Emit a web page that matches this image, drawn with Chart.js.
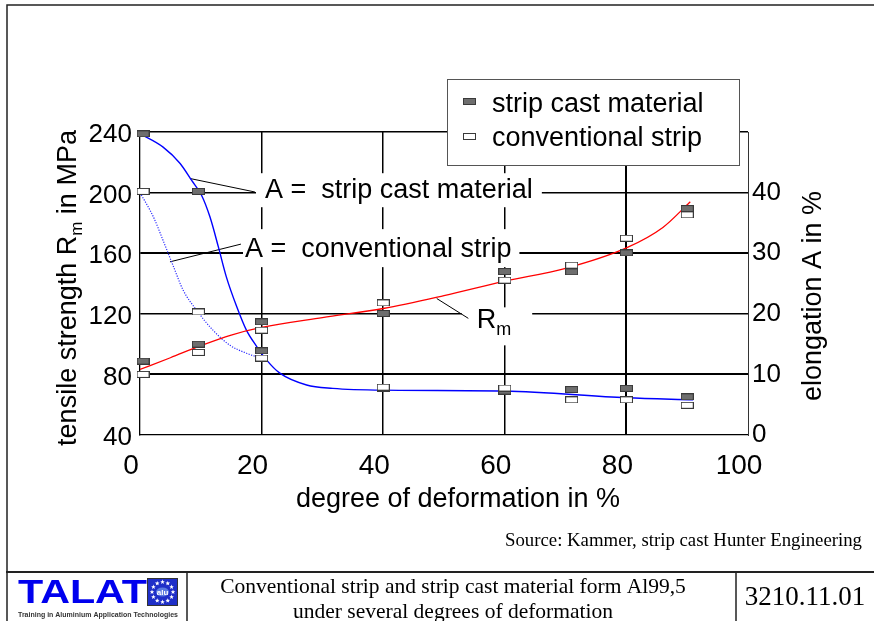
<!DOCTYPE html>
<html><head><meta charset="utf-8">
<script src="https://cdn.jsdelivr.net/npm/chart.js@4.4.0/dist/chart.umd.min.js"></script>
<style>html,body{margin:0;padding:0;background:#fff;}canvas{display:block;}</style>
</head><body>
<canvas id="c" width="874" height="621" style="width:874px;height:621px"></canvas>
<script>
// ---- data ----
const deformation = [0.5, 9.6, 20, 40, 60, 71, 80, 90];            // degree of deformation in %
const rmStripCast = [88.8, 100.0, 114.7, 120.2, 147.9, 147.7, 160.2, 189.5];   // MPa
const rmConventional = [80.0, 94.5, 109.2, 127.2, 142.2, 152.1, 169.9, 185.3]; // MPa
const elongStripCast = [49.7, 40.2, 13.9, 7.7, 7.25, 7.5, 7.7, 6.3];          // %
const elongConventional = [40.2, 20.3, 12.7, 7.9, 7.75, 5.8, 5.8, 4.9];       // %

// fitted curves
const rmCurveX = [0, 5, 10, 15, 20, 30, 40, 50, 60, 70, 80, 86, 90, 90.5];
const rmCurveY = [83.3, 91, 99, 106, 111, 117.5, 123.5, 132, 141.5, 150, 163.5, 177, 192, 194];
const elongStripCurveX = [0, 3.8, 6.6, 8.5, 10.1, 11.5, 12.9, 14.2, 15.9, 17.5, 19.2, 20.8, 23, 27.4, 31.7, 40, 60, 80, 91];
const elongStripCurveY = [49.7, 47.5, 44.8, 42, 39.6, 36, 31, 26.1, 21.2, 17.3, 14.6, 12.4, 10.2, 8.25, 7.7, 7.4, 7.25, 6.15, 5.8];
const elongConvCurveX = [0, 2.2, 3.8, 5.5, 7.1, 9.3, 12, 14.8, 17.5, 20.1];
const elongConvCurveY = [40, 36, 32.1, 27.8, 23.9, 20.6, 17.3, 14.8, 13.5, 12.6];

const xTicks = [0, 20, 40, 60, 80, 100];
const yLeftTicks = [40, 80, 120, 160, 200, 240];
const yRightTicks = [0, 10, 20, 30, 40];

const legendLabels = ['strip cast material', 'conventional strip'];
const xTitle = 'degree of deformation in %';
const yRightTitle = 'elongation A in %';

// ---- styling ----
const SANS = '"Liberation Sans", Arial, sans-serif';
const SERIF = '"Liberation Serif", "Times New Roman", serif';

function makeMarker(fill, stroke) {
  const c = document.createElement('canvas');
  c.width = 13; c.height = 7;
  const g = c.getContext('2d');
  g.fillStyle = fill; g.fillRect(0, 0, 13, 7);
  g.strokeStyle = stroke; g.lineWidth = 1; g.strokeRect(0.5, 0.5, 12, 6);
  return c;
}
const darkMarker = makeMarker('#6e6e6e', '#3a3a3a');
const whiteMarker = makeMarker('#ffffff', '#3a3a3a');

const pts = (xs, ys) => xs.map((x, i) => ({x: x, y: ys[i]}));

// annotation labels (anchor in data units: x, MPa)
const annotations = [
  {parts: [{t: 'A =  strip cast material', s: 27}], at: [20.56, 196.3], pad: {l: 9, r: 9, t: 25, b: 9},
   leader: [[8.22, 209.3], [18.9, 200.4]]},
  {parts: [{t: 'A =  conventional strip', s: 27}], at: [17.27, 157.4], pad: {l: 2, r: 8, t: 28, b: 10},
   leader: [[4.93, 154.3], [16.6, 166]]},
  {parts: [{t: 'R', s: 27}, {t: 'm', s: 18, dy: 7}], at: [55.38, 110.4], pad: {l: 15, r: 21, t: 21, b: 17},
   leader: [[48.8, 130.1], [54.0, 117]]}
];

function drawParts(ctx, parts, x, y) {
  let cx = x;
  parts.forEach(p => {
    ctx.font = p.s + 'px ' + SANS;
    ctx.fillText(p.t, cx, y + (p.dy || 0));
    cx += ctx.measureText(p.t).width;
  });
  return cx - x;
}
function partsWidth(ctx, parts) {
  let w = 0;
  parts.forEach(p => { ctx.font = p.s + 'px ' + SANS; w += ctx.measureText(p.t).width; });
  return w;
}
function star(ctx, cx, cy, r) {
  ctx.beginPath();
  for (let i = 0; i < 10; i++) {
    const a = -Math.PI / 2 + i * Math.PI / 5;
    const rr = i % 2 === 0 ? r : r * 0.45;
    const px = cx + rr * Math.cos(a), py = cy + rr * Math.sin(a);
    if (i === 0) ctx.moveTo(px, py); else ctx.lineTo(px, py);
  }
  ctx.closePath(); ctx.fill();
}

const decor = {
  id: 'decor',
  beforeDraw(chart) {
    const ctx = chart.ctx;
    ctx.save(); ctx.fillStyle = '#fff'; ctx.fillRect(0, 0, chart.width, chart.height); ctx.restore();
  },
  beforeDatasetsDraw(chart) {
    const ctx = chart.ctx, xs = chart.scales.x, ys = chart.scales.y;
    ctx.save();
    annotations.forEach(a => {
      const px = xs.getPixelForValue(a.at[0]), py = ys.getPixelForValue(a.at[1]);
      const w = partsWidth(ctx, a.parts);
      ctx.fillStyle = '#fff';
      ctx.fillRect(px - a.pad.l, py - a.pad.t, w + a.pad.l + a.pad.r, a.pad.t + a.pad.b);
      ctx.fillStyle = '#000'; ctx.textBaseline = 'alphabetic'; ctx.textAlign = 'left';
      drawParts(ctx, a.parts, px, py);
      ctx.strokeStyle = '#000'; ctx.lineWidth = 1;
      ctx.beginPath();
      ctx.moveTo(xs.getPixelForValue(a.leader[0][0]), ys.getPixelForValue(a.leader[0][1]));
      ctx.lineTo(xs.getPixelForValue(a.leader[1][0]), ys.getPixelForValue(a.leader[1][1]));
      ctx.stroke();
    });
    ctx.restore();
  },
  afterDraw(chart) {
    const ctx = chart.ctx;
    ctx.save();
    // legend
    ctx.fillStyle = '#fff'; ctx.fillRect(447, 79, 293, 87);
    ctx.strokeStyle = '#555'; ctx.lineWidth = 1; ctx.strokeRect(447.5, 79.5, 292, 86);
    ctx.drawImage(darkMarker, 463, 98);
    ctx.drawImage(whiteMarker, 463, 133);
    ctx.fillStyle = '#000'; ctx.font = '27px ' + SANS; ctx.textAlign = 'left'; ctx.textBaseline = 'alphabetic';
    ctx.fillText(legendLabels[0], 492, 112);
    ctx.fillText(legendLabels[1], 492, 146);

    // axis titles
    ctx.textAlign = 'center';
    ctx.fillText(xTitle, 458, 507);
    // left (with subscript)
    const leftParts = [{t: 'tensile strength R', s: 27}, {t: 'm', s: 17, dy: 6}, {t: ' in MPa', s: 27}];
    ctx.save();
    ctx.translate(76, 288); ctx.rotate(-Math.PI / 2);
    ctx.textAlign = 'left';
    const lw = partsWidth(ctx, leftParts);
    drawParts(ctx, leftParts, -lw / 2, 0);
    ctx.restore();
    // right
    ctx.save();
    ctx.translate(821, 296); ctx.rotate(-Math.PI / 2);
    ctx.font = '27px ' + SANS; ctx.textAlign = 'center';
    ctx.fillText(yRightTitle, 0, 0);
    ctx.restore();

    // page frame
    ctx.strokeStyle = '#222'; ctx.lineWidth = 1.5;
    ctx.beginPath(); ctx.moveTo(7, 621); ctx.lineTo(7, 5); ctx.lineTo(874, 5); ctx.stroke();

    // source
    ctx.font = '18.8px ' + SERIF; ctx.textAlign = 'right'; ctx.fillStyle = '#000';
    ctx.fillText('Source: Kammer, strip cast Hunter Engineering', 862, 546);

    // footer lines
    ctx.strokeStyle = '#222'; ctx.lineWidth = 2;
    ctx.beginPath(); ctx.moveTo(6, 572); ctx.lineTo(874, 572); ctx.stroke();
    ctx.lineWidth = 1.5;
    ctx.beginPath(); ctx.moveTo(187, 572); ctx.lineTo(187, 621); ctx.moveTo(736, 572); ctx.lineTo(736, 621); ctx.stroke();

    // TALAT logo
    ctx.save();
    ctx.fillStyle = '#0000ee';
    ctx.font = 'bold 33px ' + SANS; ctx.textAlign = 'left';
    const tw = ctx.measureText('TALAT').width;
    ctx.translate(18, 603); ctx.scale(129 / tw, 1);
    ctx.fillText('TALAT', 0, 0);
    ctx.restore();
    ctx.fillStyle = '#1f2fc8'; ctx.fillRect(147, 578, 31, 28);
    ctx.strokeStyle = '#333'; ctx.lineWidth = 1; ctx.strokeRect(147.5, 578.5, 30, 27);
    ctx.fillStyle = '#fff';
    for (let i = 0; i < 12; i++) {
      const a = i * Math.PI / 6;
      star(ctx, 162.5 + 10.5 * Math.cos(a), 592 + 10 * Math.sin(a), 2.4);
    }
    ctx.fillStyle = '#5a7ae0';
    ctx.beginPath(); ctx.ellipse(162.5, 592, 6.5, 4.5, 0, 0, 2 * Math.PI); ctx.fill();
    ctx.fillStyle = '#fff'; ctx.font = 'bold 8px ' + SANS; ctx.textAlign = 'center';
    ctx.fillText('alu', 162.5, 595);
    ctx.fillStyle = '#333'; ctx.font = 'bold 7.5px ' + SANS; ctx.textAlign = 'left';
    ctx.fillText('Training in Aluminium Application Technologies', 18, 617, 160);

    // title
    ctx.fillStyle = '#000'; ctx.font = '21.5px ' + SERIF; ctx.textAlign = 'center';
    ctx.fillText('Conventional strip and strip cast material form Al99,5', 453, 593);
    ctx.fillText('under several degrees of deformation', 453, 618);
    ctx.font = '27px ' + SERIF;
    ctx.fillText('3210.11.01', 805, 605);
    ctx.restore();
  }
};

const tickFont = s => ({family: SANS, size: s});

new Chart(document.getElementById('c'), {
  type: 'line',
  data: {
    datasets: [
      {label: 'conventional strip Rm', data: pts(deformation, rmConventional), yAxisID: 'y', showLine: false,
       pointStyle: whiteMarker, pointRadius: 6, clip: false, order: 0},
      {label: 'conventional strip A', data: pts(deformation, elongConventional), yAxisID: 'y1', showLine: false,
       pointStyle: whiteMarker, pointRadius: 6, clip: false, order: 0},
      {label: 'strip cast material Rm', data: pts(deformation, rmStripCast), yAxisID: 'y', showLine: false,
       pointStyle: darkMarker, pointRadius: 6, clip: false, order: 1},
      {label: 'strip cast material A', data: pts(deformation, elongStripCast), yAxisID: 'y1', showLine: false,
       pointStyle: darkMarker, pointRadius: 6, clip: false, order: 1},
      {label: 'Rm fit', data: pts(rmCurveX, rmCurveY), yAxisID: 'y', borderColor: '#ff0000', borderWidth: 1.3,
       pointRadius: 0, cubicInterpolationMode: 'monotone', fill: false, order: 5},
      {label: 'A strip cast fit', data: pts(elongStripCurveX, elongStripCurveY), yAxisID: 'y1', borderColor: '#0000ff',
       borderWidth: 1.4, pointRadius: 0, cubicInterpolationMode: 'monotone', fill: false, order: 5},
      {label: 'A conventional fit', data: pts(elongConvCurveX, elongConvCurveY), yAxisID: 'y1', borderColor: '#2a2aff',
       borderWidth: 1.2, borderDash: [1.2, 1.4], pointRadius: 0, cubicInterpolationMode: 'monotone', fill: false, order: 5}
    ]
  },
  options: {
    responsive: false, animation: false, devicePixelRatio: 1,
    layout: {padding: {top: 132, left: 0, right: 0, bottom: 0}},
    plugins: {legend: {display: false}, tooltip: {enabled: false}},
    scales: {
      x: {
        type: 'linear', position: 'bottom', min: 0, max: 100,
        afterBuildTicks(s) { s.ticks = xTicks.map(v => ({value: v})); },
        ticks: {font: tickFont(28), color: '#000', padding: 14, labelOffset: -9, maxRotation: 0, autoSkip: false},
        grid: {drawTicks: false,
               color: c => (c.tick && c.tick.value > 0 && c.tick.value < 100) ? '#000' : 'rgba(0,0,0,0)',
               lineWidth: c => (c.tick && c.tick.value === 80) ? 2 : 1.5},
        border: {display: true, color: '#000', width: 1.2},
        afterFit(s) { s.height = 186; }
      },
      y: {
        type: 'linear', position: 'left', min: 40, max: 240,
        afterBuildTicks(s) { s.ticks = yLeftTicks.map(v => ({value: v})); },
        ticks: {font: tickFont(26), color: '#000', padding: 8, labelOffset: 3},
        grid: {drawTicks: false,
               color: c => (c.tick && c.tick.value > 40) ? '#000' : 'rgba(0,0,0,0)',
               lineWidth: c => (c.tick && (c.tick.value === 80 || c.tick.value === 160)) ? 2 : 1.4},
        border: {display: true, color: '#000', width: 1.3},
        afterFit(s) { s.width = 140; }
      },
      y1: {
        type: 'linear', position: 'right', min: 0, max: 50,
        afterBuildTicks(s) { s.ticks = yRightTicks.map(v => ({value: v})); },
        ticks: {font: tickFont(26), color: '#000', padding: 4},
        grid: {display: false, drawTicks: false},
        border: {display: true, color: '#333', width: 1},
        afterFit(s) { s.width = 126; }
      }
    }
  },
  plugins: [decor]
});
</script>
</body></html>
